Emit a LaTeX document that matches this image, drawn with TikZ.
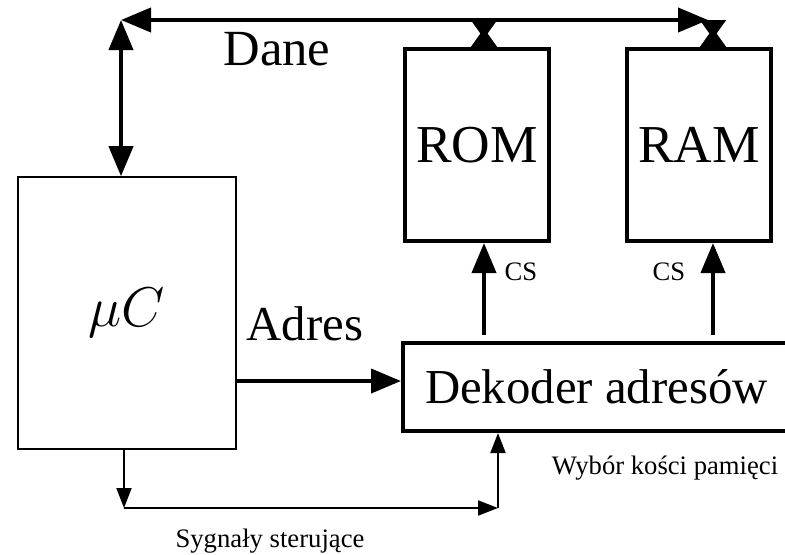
\RequirePackage{fix-cm}
\documentclass[tikz,border=0pt]{standalone}
\usepackage{fontspec}
\setmainfont{Liberation Serif}
\usetikzlibrary{arrows.meta}
\begin{document}
\begin{tikzpicture}[x=0.75pt,y=-0.75pt,
  blok/.style={draw, line width=3pt, inner sep=0pt, font=\fontsize{40}{44}\selectfont},
  duzy/.style={font=\fontsize{38}{42}\selectfont, inner sep=0pt, anchor=base},
  maly/.style={font=\fontsize{20}{22}\selectfont, inner sep=0pt, anchor=base},
  gruba/.style={line width=3pt, >={Triangle[length=22.5pt,width=18pt]}},
  cienka/.style={line width=1.5pt, >={Triangle[length=15pt,width=11.25pt]}}]
\useasboundingbox (0,0) rectangle (785,554);
% bloki
\node[blok, line width=1.2pt, minimum width=163.5pt, minimum height=204pt, font=\fontsize{42}{46}\selectfont] (uc) at (127,313) {$\mu C$};
\node[blok, minimum width=108pt, minimum height=144pt] (rom) at (477,145) {ROM};
\node[blok, minimum width=108pt, minimum height=144pt] (ram) at (699,145) {RAM};
\node[blok, minimum width=290.25pt, minimum height=66pt, font=\fontsize{36.6}{40}\selectfont] (dek) at (596.5,387) {Dekoder adresów};
% punkty pomocnicze
\coordinate (dane) at (121,20);
\coordinate (szyna) at (708,20);
\coordinate (csrom) at (484,0);
\coordinate (csram) at (713,0);
\coordinate (adr) at (0,381);
\coordinate (sygl) at (124,508);
\coordinate (sygp) at (498,508);
% szyna danych
\draw[gruba,<->] (dane) -- (szyna);
\draw[gruba,<->] (dane) -- (uc.north -| dane);
\draw[gruba, >={Triangle[length=14pt,width=19pt]}, >-<] (csrom |- dane) -- (rom.north -| csrom);
\draw[gruba, >={Triangle[length=14pt,width=19pt]}, >-<] (csram |- dane) -- (ram.north -| csram);
% adres i CS
\draw[gruba,->] (uc.east |- adr) -- (dek.west |- adr);
\draw[gruba,->, shorten <=4.5pt] (dek.north -| csrom) -- (rom.south -| csrom);
\draw[gruba,->, shorten <=4.5pt] (dek.north -| csram) -- (ram.south -| csram);
% sygnaly sterujace
\draw[cienka,->] (uc.south -| sygl) -- (sygl);
\draw[cienka,->] (sygl) -- (sygp);
\draw[cienka,->] (sygp) -- (dek.south -| sygp);
% opisy
\node[duzy] (ldane) at (277,65) {Dane};
\node[duzy, font=\fontsize{36.6}{40}\selectfont] (ladres) at (305,340) {Adres};
\node[maly] (lcsrom) at (521,280) {CS};
\node[maly] (lcsram) at (669,280) {CS};
\node[maly] (lwybor) at (665,474) {Wybór kości pamięci};
\node[maly] (lsyg) at (270,547) {Sygnały sterujące};
\end{tikzpicture}
\end{document}
